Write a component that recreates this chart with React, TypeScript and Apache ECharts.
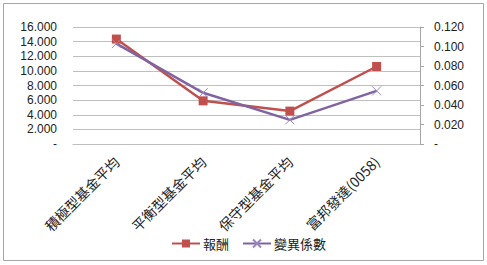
import React, { useEffect, useRef } from "react";
import * as echarts from "echarts";

const categories = ["積極型基金平均", "平衡型基金平均", "保守型基金平均", "富邦發達(0058)"];
const returnValues = [14.35, 5.9, 4.5, 10.6];
const cvValues = [0.103, 0.0525, 0.0248, 0.0545];
const seriesNames = ["報酬", "變異係數"];

const fmt = (v: number) => (v === 0 ? "-" : v.toFixed(3));

export default function App() {
  const ref = useRef<HTMLDivElement>(null);
  useEffect(() => {
    if (!ref.current) return;
    const chart = echarts.init(ref.current, null, { renderer: "svg" });
    const labelFont = "'Liberation Sans', Arial, sans-serif";
    chart.setOption({
      animation: false,
      backgroundColor: "#fff",
      graphic: [
        {
          type: "rect",
          shape: { x: 3.5, y: 3.5, width: 480, height: 257 },
          style: { fill: "none", stroke: "#A6A6A6", lineWidth: 1 },
          silent: true,
        },
      ],
      grid: { left: 73, right: 67, top: 27, bottom: 121 },
      legend: {
        left: 166,
        top: 232,
        itemWidth: 28,
        itemHeight: 10,
        itemGap: 13,
        textStyle: { fontSize: 13, color: "#222", fontFamily: "'Noto Sans CJK TC', sans-serif", padding: [0, 0, 0, -2] },
        data: seriesNames,
      },
      xAxis: {
        type: "category",
        data: categories,
        boundaryGap: true,
        axisLine: { show: true, lineStyle: { color: "#BFBFBF" } },
        axisTick: { show: false },
        axisLabel: {
          rotate: 45,
          margin: 15,
          interval: 0,
          fontSize: 14,
          color: "#222",
          fontFamily: "'Noto Sans CJK TC', sans-serif",
        },
      },
      yAxis: [
        {
          type: "value",
          min: 0,
          max: 16,
          interval: 2,
          axisLine: { show: false },
          axisTick: { show: false },
          splitLine: { show: true, lineStyle: { color: "#BFBFBF", width: 1 } },
          axisLabel: { formatter: fmt, fontSize: 12, color: "#222", margin: 16, fontFamily: labelFont },
        },
        {
          type: "value",
          min: 0,
          max: 0.12,
          interval: 0.02,
          position: "right",
          axisLine: { show: true, lineStyle: { color: "#A6A6A6" } },
          axisTick: { show: true, length: 4, lineStyle: { color: "#A6A6A6" } },
          splitLine: { show: false },
          axisLabel: { formatter: fmt, fontSize: 12, color: "#222", margin: 14, fontFamily: labelFont },
        },
      ],
      series: [
        {
          name: seriesNames[0],
          type: "line",
          yAxisIndex: 0,
          data: returnValues,
          symbol: "rect",
          symbolSize: 9,
          lineStyle: { color: "#C0504D", width: 2.5 },
          itemStyle: { color: "#C0504D" },
          z: 2,
        },
        {
          name: seriesNames[1],
          type: "line",
          yAxisIndex: 1,
          data: cvValues,
          symbol: "path://M0,0L10,10M10,0L0,10",
          symbolSize: 9,
          lineStyle: { color: "#8064A2", width: 2.5 },
          itemStyle: { color: "rgba(0,0,0,0)", borderColor: "#9A86BC", borderWidth: 1 },
          z: 3,
        },
      ],
    });
    return () => chart.dispose();
  }, []);
  return (
    <div
      ref={ref}
      style={{ position: "fixed", left: 0, top: 0, width: 487, height: 265 }}
    />
  );
}
